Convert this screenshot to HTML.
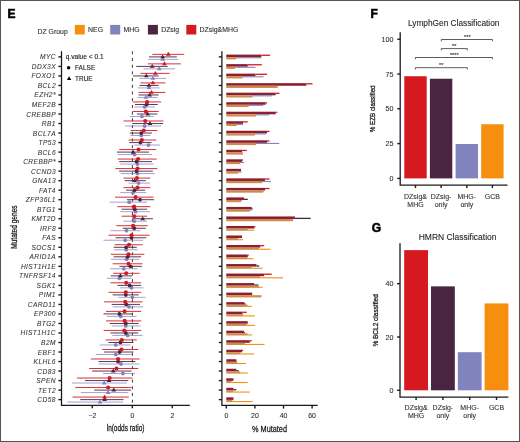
<!DOCTYPE html><html><head><meta charset="utf-8"><style>html,body{margin:0;padding:0;background:#fff;}svg{display:block;will-change:transform;}text{stroke-width:0.12px;}text.ns{stroke-width:0.08px;}text.bt{stroke-width:0.3px;}text.pl{stroke-width:0.55px;}</style></head><body>
<svg width="520" height="442" viewBox="0 0 520 442" font-family='"Liberation Sans", sans-serif'>
<rect x="0" y="0" width="520" height="442" fill="#fff"/>
<rect x="0.5" y="0.5" width="519" height="441" fill="none" stroke="#555" stroke-width="1"/>
<text class="pl" x="7.6" y="17.6" font-size="12" font-weight="bold" fill="#000" stroke="#000">E</text>
<text class="pl" x="370.4" y="18" font-size="12" font-weight="bold" fill="#000" stroke="#000">F</text>
<text class="pl" x="371.8" y="232" font-size="12" font-weight="bold" fill="#000" stroke="#000">G</text>
<text x="37.5" y="34.0" font-size="6.9" fill="#333" stroke="#333">DZ Group</text>
<rect x="74.8" y="24.9" width="10" height="9.6" fill="#F68F0F"/>
<text x="88.1" y="32.2" font-size="6.9" fill="#333" stroke="#333">NEG</text>
<rect x="110.2" y="24.9" width="10" height="9.6" fill="#8183BF"/>
<text x="123.5" y="32.2" font-size="6.9" fill="#333" stroke="#333">MHG</text>
<rect x="147.9" y="24.9" width="10" height="9.6" fill="#4A2440"/>
<text x="161.20000000000002" y="32.2" font-size="6.9" fill="#333" stroke="#333">DZsig</text>
<rect x="186.3" y="24.9" width="10" height="9.6" fill="#D6191F"/>
<text x="199.60000000000002" y="32.2" font-size="6.9" fill="#333" stroke="#333">DZsig&amp;MHG</text>
<line x1="132.4" y1="51.3" x2="132.4" y2="405" stroke="#222" stroke-width="0.9" stroke-dasharray="3 3.7"/>
<line x1="147.8" y1="59.35" x2="178" y2="59.35" stroke="#8183BF" stroke-width="1.0" stroke-opacity="0.75"/>
<line x1="143.5" y1="68.87" x2="175.1" y2="68.87" stroke="#8183BF" stroke-width="1.0" stroke-opacity="0.75"/>
<line x1="139.4" y1="78.39" x2="166.3" y2="78.39" stroke="#8183BF" stroke-width="1.0" stroke-opacity="0.75"/>
<line x1="137.5" y1="87.91" x2="159.6" y2="87.91" stroke="#8183BF" stroke-width="1.0" stroke-opacity="0.75"/>
<line x1="137.5" y1="97.43" x2="157.7" y2="97.43" stroke="#8183BF" stroke-width="1.0" stroke-opacity="0.75"/>
<line x1="134.6" y1="106.95" x2="154.8" y2="106.95" stroke="#8183BF" stroke-width="1.0" stroke-opacity="0.75"/>
<line x1="129.8" y1="116.47" x2="153.8" y2="116.47" stroke="#8183BF" stroke-width="1.0" stroke-opacity="0.75"/>
<line x1="125" y1="125.99" x2="161.2" y2="125.99" stroke="#8183BF" stroke-width="1.0" stroke-opacity="0.75"/>
<line x1="130.4" y1="135.51" x2="150.4" y2="135.51" stroke="#8183BF" stroke-width="1.0" stroke-opacity="0.75"/>
<line x1="134.2" y1="145.03" x2="160" y2="145.03" stroke="#8183BF" stroke-width="1.0" stroke-opacity="0.75"/>
<line x1="117.7" y1="154.55" x2="151.9" y2="154.55" stroke="#8183BF" stroke-width="1.0" stroke-opacity="0.75"/>
<line x1="120.2" y1="164.07" x2="153.8" y2="164.07" stroke="#8183BF" stroke-width="1.0" stroke-opacity="0.75"/>
<line x1="120.8" y1="173.59" x2="154.8" y2="173.59" stroke="#8183BF" stroke-width="1.0" stroke-opacity="0.75"/>
<line x1="128.5" y1="183.11" x2="150" y2="183.11" stroke="#8183BF" stroke-width="1.0" stroke-opacity="0.75"/>
<line x1="120.2" y1="192.63" x2="146.2" y2="192.63" stroke="#8183BF" stroke-width="1.0" stroke-opacity="0.75"/>
<line x1="109.6" y1="202.15" x2="147.1" y2="202.15" stroke="#8183BF" stroke-width="1.0" stroke-opacity="0.75"/>
<line x1="120.2" y1="211.67" x2="150" y2="211.67" stroke="#8183BF" stroke-width="1.0" stroke-opacity="0.75"/>
<line x1="123.5" y1="221.19" x2="147.1" y2="221.19" stroke="#8183BF" stroke-width="1.0" stroke-opacity="0.75"/>
<line x1="110.6" y1="230.71" x2="140.4" y2="230.71" stroke="#8183BF" stroke-width="1.0" stroke-opacity="0.75"/>
<line x1="103.5" y1="240.23" x2="143.1" y2="240.23" stroke="#8183BF" stroke-width="1.0" stroke-opacity="0.75"/>
<line x1="114.2" y1="249.75" x2="137.7" y2="249.75" stroke="#8183BF" stroke-width="1.0" stroke-opacity="0.75"/>
<line x1="110.8" y1="259.27" x2="139.6" y2="259.27" stroke="#8183BF" stroke-width="1.0" stroke-opacity="0.75"/>
<line x1="110.4" y1="268.79" x2="137.7" y2="268.79" stroke="#8183BF" stroke-width="1.0" stroke-opacity="0.75"/>
<line x1="106.9" y1="278.31" x2="131.5" y2="278.31" stroke="#8183BF" stroke-width="1.0" stroke-opacity="0.75"/>
<line x1="120" y1="287.83" x2="143.5" y2="287.83" stroke="#8183BF" stroke-width="1.0" stroke-opacity="0.75"/>
<line x1="118.5" y1="297.35" x2="145.4" y2="297.35" stroke="#8183BF" stroke-width="1.0" stroke-opacity="0.75"/>
<line x1="112.7" y1="306.87" x2="143.1" y2="306.87" stroke="#8183BF" stroke-width="1.0" stroke-opacity="0.75"/>
<line x1="106.9" y1="316.39" x2="136.7" y2="316.39" stroke="#8183BF" stroke-width="1.0" stroke-opacity="0.75"/>
<line x1="111.7" y1="325.91" x2="140.6" y2="325.91" stroke="#8183BF" stroke-width="1.0" stroke-opacity="0.75"/>
<line x1="112.3" y1="335.43" x2="142.7" y2="335.43" stroke="#8183BF" stroke-width="1.0" stroke-opacity="0.75"/>
<line x1="99.8" y1="344.95" x2="130.6" y2="344.95" stroke="#8183BF" stroke-width="1.0" stroke-opacity="0.75"/>
<line x1="96" y1="354.47" x2="131.9" y2="354.47" stroke="#8183BF" stroke-width="1.0" stroke-opacity="0.75"/>
<line x1="98.8" y1="363.99" x2="139.2" y2="363.99" stroke="#8183BF" stroke-width="1.0" stroke-opacity="0.75"/>
<line x1="103.1" y1="373.51" x2="135" y2="373.51" stroke="#8183BF" stroke-width="1.0" stroke-opacity="0.75"/>
<line x1="71.9" y1="383.03" x2="126.9" y2="383.03" stroke="#8183BF" stroke-width="1.0" stroke-opacity="0.75"/>
<line x1="80.8" y1="392.55" x2="128.3" y2="392.55" stroke="#8183BF" stroke-width="1.0" stroke-opacity="0.75"/>
<line x1="67.3" y1="402.07" x2="123.1" y2="402.07" stroke="#8183BF" stroke-width="1.0" stroke-opacity="0.75"/>
<line x1="149" y1="56.90" x2="176.8" y2="56.90" stroke="#4A2440" stroke-width="1.0" stroke-opacity="0.9"/>
<line x1="136.2" y1="66.42" x2="167.6" y2="66.42" stroke="#4A2440" stroke-width="1.0" stroke-opacity="0.9"/>
<line x1="133" y1="75.94" x2="158.7" y2="75.94" stroke="#4A2440" stroke-width="1.0" stroke-opacity="0.9"/>
<line x1="139.4" y1="85.46" x2="158.7" y2="85.46" stroke="#4A2440" stroke-width="1.0" stroke-opacity="0.9"/>
<line x1="138.5" y1="94.98" x2="158.7" y2="94.98" stroke="#4A2440" stroke-width="1.0" stroke-opacity="0.9"/>
<line x1="135" y1="104.50" x2="157.7" y2="104.50" stroke="#4A2440" stroke-width="1.0" stroke-opacity="0.9"/>
<line x1="136.9" y1="114.02" x2="157.3" y2="114.02" stroke="#4A2440" stroke-width="1.0" stroke-opacity="0.9"/>
<line x1="132.3" y1="123.54" x2="163.1" y2="123.54" stroke="#4A2440" stroke-width="1.0" stroke-opacity="0.9"/>
<line x1="129.8" y1="133.06" x2="151.9" y2="133.06" stroke="#4A2440" stroke-width="1.0" stroke-opacity="0.9"/>
<line x1="129.2" y1="142.58" x2="151.5" y2="142.58" stroke="#4A2440" stroke-width="1.0" stroke-opacity="0.9"/>
<line x1="116.9" y1="152.10" x2="149" y2="152.10" stroke="#4A2440" stroke-width="1.0" stroke-opacity="0.9"/>
<line x1="119.2" y1="161.62" x2="151.9" y2="161.62" stroke="#4A2440" stroke-width="1.0" stroke-opacity="0.9"/>
<line x1="119.2" y1="171.14" x2="152.9" y2="171.14" stroke="#4A2440" stroke-width="1.0" stroke-opacity="0.9"/>
<line x1="124.6" y1="180.66" x2="145.8" y2="180.66" stroke="#4A2440" stroke-width="1.0" stroke-opacity="0.9"/>
<line x1="126" y1="190.18" x2="145.2" y2="190.18" stroke="#4A2440" stroke-width="1.0" stroke-opacity="0.9"/>
<line x1="127" y1="199.70" x2="154.2" y2="199.70" stroke="#4A2440" stroke-width="1.0" stroke-opacity="0.9"/>
<line x1="121.5" y1="209.22" x2="147.1" y2="209.22" stroke="#4A2440" stroke-width="1.0" stroke-opacity="0.9"/>
<line x1="132.3" y1="218.74" x2="152.9" y2="218.74" stroke="#4A2440" stroke-width="1.0" stroke-opacity="0.9"/>
<line x1="122.7" y1="228.26" x2="145.8" y2="228.26" stroke="#4A2440" stroke-width="1.0" stroke-opacity="0.9"/>
<line x1="115.6" y1="237.78" x2="146.3" y2="237.78" stroke="#4A2440" stroke-width="1.0" stroke-opacity="0.9"/>
<line x1="113.7" y1="247.30" x2="136.7" y2="247.30" stroke="#4A2440" stroke-width="1.0" stroke-opacity="0.9"/>
<line x1="113.7" y1="256.82" x2="141.2" y2="256.82" stroke="#4A2440" stroke-width="1.0" stroke-opacity="0.9"/>
<line x1="119.4" y1="266.34" x2="141.9" y2="266.34" stroke="#4A2440" stroke-width="1.0" stroke-opacity="0.9"/>
<line x1="110.8" y1="275.86" x2="132.3" y2="275.86" stroke="#4A2440" stroke-width="1.0" stroke-opacity="0.9"/>
<line x1="117.5" y1="285.38" x2="141.2" y2="285.38" stroke="#4A2440" stroke-width="1.0" stroke-opacity="0.9"/>
<line x1="112.7" y1="294.90" x2="138.7" y2="294.90" stroke="#4A2440" stroke-width="1.0" stroke-opacity="0.9"/>
<line x1="111.7" y1="304.42" x2="140" y2="304.42" stroke="#4A2440" stroke-width="1.0" stroke-opacity="0.9"/>
<line x1="103.5" y1="313.94" x2="132.3" y2="313.94" stroke="#4A2440" stroke-width="1.0" stroke-opacity="0.9"/>
<line x1="109.8" y1="323.46" x2="138.7" y2="323.46" stroke="#4A2440" stroke-width="1.0" stroke-opacity="0.9"/>
<line x1="110.4" y1="332.98" x2="138.3" y2="332.98" stroke="#4A2440" stroke-width="1.0" stroke-opacity="0.9"/>
<line x1="108.5" y1="342.50" x2="133.5" y2="342.50" stroke="#4A2440" stroke-width="1.0" stroke-opacity="0.9"/>
<line x1="104.2" y1="352.02" x2="133.5" y2="352.02" stroke="#4A2440" stroke-width="1.0" stroke-opacity="0.9"/>
<line x1="98.5" y1="361.54" x2="135.4" y2="361.54" stroke="#4A2440" stroke-width="1.0" stroke-opacity="0.9"/>
<line x1="92.1" y1="371.06" x2="131.5" y2="371.06" stroke="#4A2440" stroke-width="1.0" stroke-opacity="0.9"/>
<line x1="85" y1="380.58" x2="128.3" y2="380.58" stroke="#4A2440" stroke-width="1.0" stroke-opacity="0.9"/>
<line x1="94.2" y1="390.10" x2="131.2" y2="390.10" stroke="#4A2440" stroke-width="1.0" stroke-opacity="0.9"/>
<line x1="80.2" y1="399.62" x2="123.5" y2="399.62" stroke="#4A2440" stroke-width="1.0" stroke-opacity="0.9"/>
<line x1="152.4" y1="54.35" x2="184.2" y2="54.35" stroke="#D6191F" stroke-width="1.0" stroke-opacity="0.9"/>
<line x1="147.8" y1="63.87" x2="180.8" y2="63.87" stroke="#D6191F" stroke-width="1.0" stroke-opacity="0.9"/>
<line x1="140.4" y1="73.39" x2="169.6" y2="73.39" stroke="#D6191F" stroke-width="1.0" stroke-opacity="0.9"/>
<line x1="140.4" y1="82.91" x2="165.4" y2="82.91" stroke="#D6191F" stroke-width="1.0" stroke-opacity="0.9"/>
<line x1="138.5" y1="92.43" x2="165.4" y2="92.43" stroke="#D6191F" stroke-width="1.0" stroke-opacity="0.9"/>
<line x1="132.7" y1="101.95" x2="161.2" y2="101.95" stroke="#D6191F" stroke-width="1.0" stroke-opacity="0.9"/>
<line x1="132.7" y1="111.47" x2="158.7" y2="111.47" stroke="#D6191F" stroke-width="1.0" stroke-opacity="0.9"/>
<line x1="123.5" y1="120.99" x2="163.5" y2="120.99" stroke="#D6191F" stroke-width="1.0" stroke-opacity="0.9"/>
<line x1="130.8" y1="130.51" x2="157.3" y2="130.51" stroke="#D6191F" stroke-width="1.0" stroke-opacity="0.9"/>
<line x1="128.5" y1="140.03" x2="156.2" y2="140.03" stroke="#D6191F" stroke-width="1.0" stroke-opacity="0.9"/>
<line x1="119.2" y1="149.55" x2="156.2" y2="149.55" stroke="#D6191F" stroke-width="1.0" stroke-opacity="0.9"/>
<line x1="117.7" y1="159.07" x2="156.7" y2="159.07" stroke="#D6191F" stroke-width="1.0" stroke-opacity="0.9"/>
<line x1="115.4" y1="168.59" x2="157.3" y2="168.59" stroke="#D6191F" stroke-width="1.0" stroke-opacity="0.9"/>
<line x1="123.5" y1="178.11" x2="150.4" y2="178.11" stroke="#D6191F" stroke-width="1.0" stroke-opacity="0.9"/>
<line x1="123.5" y1="187.63" x2="150.4" y2="187.63" stroke="#D6191F" stroke-width="1.0" stroke-opacity="0.9"/>
<line x1="115" y1="197.15" x2="153.5" y2="197.15" stroke="#D6191F" stroke-width="1.0" stroke-opacity="0.9"/>
<line x1="117.3" y1="206.67" x2="150.4" y2="206.67" stroke="#D6191F" stroke-width="1.0" stroke-opacity="0.9"/>
<line x1="121.5" y1="216.19" x2="147.1" y2="216.19" stroke="#D6191F" stroke-width="1.0" stroke-opacity="0.9"/>
<line x1="116.3" y1="225.71" x2="147.7" y2="225.71" stroke="#D6191F" stroke-width="1.0" stroke-opacity="0.9"/>
<line x1="108.5" y1="235.23" x2="149.6" y2="235.23" stroke="#D6191F" stroke-width="1.0" stroke-opacity="0.9"/>
<line x1="114.6" y1="244.75" x2="142.5" y2="244.75" stroke="#D6191F" stroke-width="1.0" stroke-opacity="0.9"/>
<line x1="110.8" y1="254.27" x2="144.4" y2="254.27" stroke="#D6191F" stroke-width="1.0" stroke-opacity="0.9"/>
<line x1="112.7" y1="263.79" x2="142.5" y2="263.79" stroke="#D6191F" stroke-width="1.0" stroke-opacity="0.9"/>
<line x1="113.1" y1="273.31" x2="139.6" y2="273.31" stroke="#D6191F" stroke-width="1.0" stroke-opacity="0.9"/>
<line x1="110.4" y1="282.83" x2="141.2" y2="282.83" stroke="#D6191F" stroke-width="1.0" stroke-opacity="0.9"/>
<line x1="108.5" y1="292.35" x2="141.2" y2="292.35" stroke="#D6191F" stroke-width="1.0" stroke-opacity="0.9"/>
<line x1="104" y1="301.87" x2="142.5" y2="301.87" stroke="#D6191F" stroke-width="1.0" stroke-opacity="0.9"/>
<line x1="106" y1="311.39" x2="141.2" y2="311.39" stroke="#D6191F" stroke-width="1.0" stroke-opacity="0.9"/>
<line x1="106" y1="320.91" x2="141.2" y2="320.91" stroke="#D6191F" stroke-width="1.0" stroke-opacity="0.9"/>
<line x1="103.7" y1="330.43" x2="141.2" y2="330.43" stroke="#D6191F" stroke-width="1.0" stroke-opacity="0.9"/>
<line x1="105.6" y1="339.95" x2="136.9" y2="339.95" stroke="#D6191F" stroke-width="1.0" stroke-opacity="0.9"/>
<line x1="102.3" y1="349.47" x2="138.3" y2="349.47" stroke="#D6191F" stroke-width="1.0" stroke-opacity="0.9"/>
<line x1="90.8" y1="358.99" x2="139.6" y2="358.99" stroke="#D6191F" stroke-width="1.0" stroke-opacity="0.9"/>
<line x1="89.2" y1="368.51" x2="138.3" y2="368.51" stroke="#D6191F" stroke-width="1.0" stroke-opacity="0.9"/>
<line x1="76.9" y1="378.03" x2="132.7" y2="378.03" stroke="#D6191F" stroke-width="1.0" stroke-opacity="0.9"/>
<line x1="75.4" y1="387.55" x2="131.5" y2="387.55" stroke="#D6191F" stroke-width="1.0" stroke-opacity="0.9"/>
<line x1="72.5" y1="397.07" x2="128.8" y2="397.07" stroke="#D6191F" stroke-width="1.0" stroke-opacity="0.9"/>
<path d="M162.7 56.85L165.1 60.75L160.29999999999998 60.75Z" fill="#8183BF"/>
<path d="M159.2 66.37L161.6 70.27L156.79999999999998 70.27Z" fill="#8183BF"/>
<path d="M152.9 75.89L155.3 79.79L150.5 79.79Z" fill="#8183BF"/>
<path d="M149 85.41L151.4 89.31L146.6 89.31Z" fill="#8183BF"/>
<path d="M145.8 94.93L148.20000000000002 98.83L143.4 98.83Z" fill="#8183BF"/>
<circle cx="144.6" cy="106.95" r="1.9" fill="#8183BF"/>
<circle cx="141.9" cy="116.47" r="1.9" fill="#8183BF"/>
<circle cx="144.6" cy="125.99" r="1.9" fill="#8183BF"/>
<circle cx="141.3" cy="135.51" r="1.9" fill="#8183BF"/>
<circle cx="148.5" cy="145.03" r="1.9" fill="#8183BF"/>
<circle cx="134.6" cy="154.55" r="1.9" fill="#8183BF"/>
<circle cx="137.5" cy="164.07" r="1.9" fill="#8183BF"/>
<circle cx="137.5" cy="173.59" r="1.9" fill="#8183BF"/>
<circle cx="138.5" cy="183.11" r="1.9" fill="#8183BF"/>
<circle cx="133.1" cy="192.63" r="1.9" fill="#8183BF"/>
<circle cx="129.2" cy="202.15" r="1.9" fill="#8183BF"/>
<circle cx="135.6" cy="211.67" r="1.9" fill="#8183BF"/>
<circle cx="134.2" cy="221.19" r="1.9" fill="#8183BF"/>
<circle cx="126.5" cy="230.71" r="1.9" fill="#8183BF"/>
<circle cx="125.2" cy="240.23" r="1.9" fill="#8183BF"/>
<circle cx="126.2" cy="249.75" r="1.9" fill="#8183BF"/>
<circle cx="126.5" cy="259.27" r="1.9" fill="#8183BF"/>
<circle cx="123.8" cy="268.79" r="1.9" fill="#8183BF"/>
<circle cx="119.4" cy="278.31" r="1.9" fill="#8183BF"/>
<circle cx="131.5" cy="287.83" r="1.9" fill="#8183BF"/>
<circle cx="132.3" cy="297.35" r="1.9" fill="#8183BF"/>
<circle cx="129" cy="306.87" r="1.9" fill="#8183BF"/>
<circle cx="120.8" cy="316.39" r="1.9" fill="#8183BF"/>
<circle cx="125.8" cy="325.91" r="1.9" fill="#8183BF"/>
<circle cx="127.7" cy="335.43" r="1.9" fill="#8183BF"/>
<circle cx="115.8" cy="344.95" r="1.9" fill="#8183BF"/>
<circle cx="115.8" cy="354.47" r="1.9" fill="#8183BF"/>
<circle cx="121" cy="363.99" r="1.9" fill="#8183BF"/>
<circle cx="122.9" cy="373.51" r="1.9" fill="#8183BF"/>
<path d="M104.2 380.53L106.60000000000001 384.43L101.8 384.43Z" fill="#8183BF"/>
<path d="M108.1 390.05L110.5 393.95L105.69999999999999 393.95Z" fill="#8183BF"/>
<path d="M100 399.57L102.4 403.47L97.6 403.47Z" fill="#8183BF"/>
<path d="M162.7 54.40L165.1 58.30L160.29999999999998 58.30Z" fill="#4A2440"/>
<path d="M152.2 63.92L154.6 67.82L149.79999999999998 67.82Z" fill="#4A2440"/>
<path d="M146.3 73.44L148.70000000000002 77.34L143.9 77.34Z" fill="#4A2440"/>
<path d="M149 82.96L151.4 86.86L146.6 86.86Z" fill="#4A2440"/>
<path d="M149.6 92.48L152.0 96.38L147.2 96.38Z" fill="#4A2440"/>
<circle cx="146.7" cy="104.50" r="1.9" fill="#4A2440"/>
<path d="M147.7 111.52L150.1 115.42L145.29999999999998 115.42Z" fill="#4A2440"/>
<path d="M150 121.04L152.4 124.94L147.6 124.94Z" fill="#4A2440"/>
<circle cx="141.3" cy="133.06" r="1.9" fill="#4A2440"/>
<circle cx="140.4" cy="142.58" r="1.9" fill="#4A2440"/>
<path d="M133.1 149.60L135.5 153.50L130.7 153.50Z" fill="#4A2440"/>
<circle cx="136.5" cy="161.62" r="1.9" fill="#4A2440"/>
<circle cx="136.5" cy="171.14" r="1.9" fill="#4A2440"/>
<path d="M134.6 178.16L137.0 182.06L132.2 182.06Z" fill="#4A2440"/>
<circle cx="134.6" cy="190.18" r="1.9" fill="#4A2440"/>
<circle cx="140" cy="199.70" r="1.9" fill="#4A2440"/>
<circle cx="134.6" cy="209.22" r="1.9" fill="#4A2440"/>
<path d="M142.7 216.24L145.1 220.14L140.29999999999998 220.14Z" fill="#4A2440"/>
<circle cx="134.2" cy="228.26" r="1.9" fill="#4A2440"/>
<circle cx="131.5" cy="237.78" r="1.9" fill="#4A2440"/>
<circle cx="126.2" cy="247.30" r="1.9" fill="#4A2440"/>
<circle cx="127.7" cy="256.82" r="1.9" fill="#4A2440"/>
<circle cx="130.4" cy="266.34" r="1.9" fill="#4A2440"/>
<path d="M120.4 273.36L122.80000000000001 277.26L118.0 277.26Z" fill="#4A2440"/>
<circle cx="129.6" cy="285.38" r="1.9" fill="#4A2440"/>
<circle cx="125.8" cy="294.90" r="1.9" fill="#4A2440"/>
<circle cx="126.2" cy="304.42" r="1.9" fill="#4A2440"/>
<circle cx="119.4" cy="313.94" r="1.9" fill="#4A2440"/>
<circle cx="125.8" cy="323.46" r="1.9" fill="#4A2440"/>
<circle cx="125.8" cy="332.98" r="1.9" fill="#4A2440"/>
<circle cx="120.4" cy="342.50" r="1.9" fill="#4A2440"/>
<circle cx="119.6" cy="352.02" r="1.9" fill="#4A2440"/>
<circle cx="118.1" cy="361.54" r="1.9" fill="#4A2440"/>
<path d="M113.3 368.56L115.7 372.46L110.89999999999999 372.46Z" fill="#4A2440"/>
<path d="M109 378.08L111.4 381.98L106.6 381.98Z" fill="#4A2440"/>
<path d="M113.8 387.60L116.2 391.50L111.39999999999999 391.50Z" fill="#4A2440"/>
<path d="M104.6 397.12L107.0 401.02L102.19999999999999 401.02Z" fill="#4A2440"/>
<path d="M168.3 51.85L170.70000000000002 55.75L165.9 55.75Z" fill="#D6191F"/>
<path d="M164.4 61.37L166.8 65.27L162.0 65.27Z" fill="#D6191F"/>
<path d="M155.4 70.89L157.8 74.79L153.0 74.79Z" fill="#D6191F"/>
<path d="M152.9 80.41L155.3 84.31L150.5 84.31Z" fill="#D6191F"/>
<path d="M151.5 89.93L153.9 93.83L149.1 93.83Z" fill="#D6191F"/>
<circle cx="147.1" cy="101.95" r="2.05" fill="#D6191F"/>
<circle cx="145.8" cy="111.47" r="2.05" fill="#D6191F"/>
<circle cx="145.2" cy="120.99" r="2.05" fill="#D6191F"/>
<circle cx="143.8" cy="130.51" r="2.05" fill="#D6191F"/>
<circle cx="141.9" cy="140.03" r="2.05" fill="#D6191F"/>
<circle cx="138.5" cy="149.55" r="2.05" fill="#D6191F"/>
<circle cx="138.1" cy="159.07" r="2.05" fill="#D6191F"/>
<circle cx="137.5" cy="168.59" r="2.05" fill="#D6191F"/>
<circle cx="136.9" cy="178.11" r="2.05" fill="#D6191F"/>
<circle cx="137.5" cy="187.63" r="2.05" fill="#D6191F"/>
<circle cx="135.6" cy="197.15" r="2.05" fill="#D6191F"/>
<circle cx="134.2" cy="206.67" r="2.05" fill="#D6191F"/>
<circle cx="134.2" cy="216.19" r="2.05" fill="#D6191F"/>
<circle cx="133.1" cy="225.71" r="2.05" fill="#D6191F"/>
<circle cx="131.5" cy="235.23" r="2.05" fill="#D6191F"/>
<circle cx="129" cy="244.75" r="2.05" fill="#D6191F"/>
<circle cx="128.5" cy="254.27" r="2.05" fill="#D6191F"/>
<circle cx="128.5" cy="263.79" r="2.05" fill="#D6191F"/>
<circle cx="126.2" cy="273.31" r="2.05" fill="#D6191F"/>
<circle cx="126.2" cy="282.83" r="2.05" fill="#D6191F"/>
<circle cx="125.8" cy="292.35" r="2.05" fill="#D6191F"/>
<circle cx="125.2" cy="301.87" r="2.05" fill="#D6191F"/>
<circle cx="124.6" cy="311.39" r="2.05" fill="#D6191F"/>
<circle cx="124.6" cy="320.91" r="2.05" fill="#D6191F"/>
<circle cx="124.2" cy="330.43" r="2.05" fill="#D6191F"/>
<circle cx="121.9" cy="339.95" r="2.05" fill="#D6191F"/>
<circle cx="121.5" cy="349.47" r="2.05" fill="#D6191F"/>
<circle cx="118.1" cy="358.99" r="2.05" fill="#D6191F"/>
<circle cx="116.5" cy="368.51" r="2.05" fill="#D6191F"/>
<circle cx="109.6" cy="378.03" r="2.05" fill="#D6191F"/>
<circle cx="108.1" cy="387.55" r="2.05" fill="#D6191F"/>
<path d="M104.6 394.57L107.0 398.47L102.19999999999999 398.47Z" fill="#D6191F"/>
<path d="M61.5 51.2V405.4H189.8" fill="none" stroke="#1a1a1a" stroke-width="1.3"/>
<line x1="58.4" y1="56.90" x2="61.5" y2="56.90" stroke="#1a1a1a" stroke-width="1.4"/>
<text x="56.0" y="59.40" font-size="6.6" font-style="italic" letter-spacing="0.45" class="ns" fill="#383838" stroke="#383838" text-anchor="end">MYC</text>
<line x1="58.4" y1="66.42" x2="61.5" y2="66.42" stroke="#1a1a1a" stroke-width="1.4"/>
<text x="56.0" y="68.92" font-size="6.6" font-style="italic" letter-spacing="0.45" class="ns" fill="#383838" stroke="#383838" text-anchor="end">DDX3X</text>
<line x1="58.4" y1="75.94" x2="61.5" y2="75.94" stroke="#1a1a1a" stroke-width="1.4"/>
<text x="56.0" y="78.44" font-size="6.6" font-style="italic" letter-spacing="0.45" class="ns" fill="#383838" stroke="#383838" text-anchor="end">FOXO1</text>
<line x1="58.4" y1="85.46" x2="61.5" y2="85.46" stroke="#1a1a1a" stroke-width="1.4"/>
<text x="56.0" y="87.96" font-size="6.6" font-style="italic" letter-spacing="0.45" class="ns" fill="#383838" stroke="#383838" text-anchor="end">BCL2</text>
<line x1="58.4" y1="94.98" x2="61.5" y2="94.98" stroke="#1a1a1a" stroke-width="1.4"/>
<text x="56.0" y="97.48" font-size="6.6" font-style="italic" letter-spacing="0.45" class="ns" fill="#383838" stroke="#383838" text-anchor="end">EZH2*</text>
<line x1="58.4" y1="104.50" x2="61.5" y2="104.50" stroke="#1a1a1a" stroke-width="1.4"/>
<text x="56.0" y="107.00" font-size="6.6" font-style="italic" letter-spacing="0.45" class="ns" fill="#383838" stroke="#383838" text-anchor="end">MEF2B</text>
<line x1="58.4" y1="114.02" x2="61.5" y2="114.02" stroke="#1a1a1a" stroke-width="1.4"/>
<text x="56.0" y="116.52" font-size="6.6" font-style="italic" letter-spacing="0.45" class="ns" fill="#383838" stroke="#383838" text-anchor="end">CREBBP</text>
<line x1="58.4" y1="123.54" x2="61.5" y2="123.54" stroke="#1a1a1a" stroke-width="1.4"/>
<text x="56.0" y="126.04" font-size="6.6" font-style="italic" letter-spacing="0.45" class="ns" fill="#383838" stroke="#383838" text-anchor="end">RB1</text>
<line x1="58.4" y1="133.06" x2="61.5" y2="133.06" stroke="#1a1a1a" stroke-width="1.4"/>
<text x="56.0" y="135.56" font-size="6.6" font-style="italic" letter-spacing="0.45" class="ns" fill="#383838" stroke="#383838" text-anchor="end">BCL7A</text>
<line x1="58.4" y1="142.58" x2="61.5" y2="142.58" stroke="#1a1a1a" stroke-width="1.4"/>
<text x="56.0" y="145.08" font-size="6.6" font-style="italic" letter-spacing="0.45" class="ns" fill="#383838" stroke="#383838" text-anchor="end">TP53</text>
<line x1="58.4" y1="152.10" x2="61.5" y2="152.10" stroke="#1a1a1a" stroke-width="1.4"/>
<text x="56.0" y="154.60" font-size="6.6" font-style="italic" letter-spacing="0.45" class="ns" fill="#383838" stroke="#383838" text-anchor="end">BCL6</text>
<line x1="58.4" y1="161.62" x2="61.5" y2="161.62" stroke="#1a1a1a" stroke-width="1.4"/>
<text x="56.0" y="164.12" font-size="6.6" font-style="italic" letter-spacing="0.45" class="ns" fill="#383838" stroke="#383838" text-anchor="end">CREBBP*</text>
<line x1="58.4" y1="171.14" x2="61.5" y2="171.14" stroke="#1a1a1a" stroke-width="1.4"/>
<text x="56.0" y="173.64" font-size="6.6" font-style="italic" letter-spacing="0.45" class="ns" fill="#383838" stroke="#383838" text-anchor="end">CCND3</text>
<line x1="58.4" y1="180.66" x2="61.5" y2="180.66" stroke="#1a1a1a" stroke-width="1.4"/>
<text x="56.0" y="183.16" font-size="6.6" font-style="italic" letter-spacing="0.45" class="ns" fill="#383838" stroke="#383838" text-anchor="end">GNA13</text>
<line x1="58.4" y1="190.18" x2="61.5" y2="190.18" stroke="#1a1a1a" stroke-width="1.4"/>
<text x="56.0" y="192.68" font-size="6.6" font-style="italic" letter-spacing="0.45" class="ns" fill="#383838" stroke="#383838" text-anchor="end">FAT4</text>
<line x1="58.4" y1="199.70" x2="61.5" y2="199.70" stroke="#1a1a1a" stroke-width="1.4"/>
<text x="56.0" y="202.20" font-size="6.6" font-style="italic" letter-spacing="0.45" class="ns" fill="#383838" stroke="#383838" text-anchor="end">ZFP36L1</text>
<line x1="58.4" y1="209.22" x2="61.5" y2="209.22" stroke="#1a1a1a" stroke-width="1.4"/>
<text x="56.0" y="211.72" font-size="6.6" font-style="italic" letter-spacing="0.45" class="ns" fill="#383838" stroke="#383838" text-anchor="end">BTG1</text>
<line x1="58.4" y1="218.74" x2="61.5" y2="218.74" stroke="#1a1a1a" stroke-width="1.4"/>
<text x="56.0" y="221.24" font-size="6.6" font-style="italic" letter-spacing="0.45" class="ns" fill="#383838" stroke="#383838" text-anchor="end">KMT2D</text>
<line x1="58.4" y1="228.26" x2="61.5" y2="228.26" stroke="#1a1a1a" stroke-width="1.4"/>
<text x="56.0" y="230.76" font-size="6.6" font-style="italic" letter-spacing="0.45" class="ns" fill="#383838" stroke="#383838" text-anchor="end">IRF8</text>
<line x1="58.4" y1="237.78" x2="61.5" y2="237.78" stroke="#1a1a1a" stroke-width="1.4"/>
<text x="56.0" y="240.28" font-size="6.6" font-style="italic" letter-spacing="0.45" class="ns" fill="#383838" stroke="#383838" text-anchor="end">FAS</text>
<line x1="58.4" y1="247.30" x2="61.5" y2="247.30" stroke="#1a1a1a" stroke-width="1.4"/>
<text x="56.0" y="249.80" font-size="6.6" font-style="italic" letter-spacing="0.45" class="ns" fill="#383838" stroke="#383838" text-anchor="end">SOCS1</text>
<line x1="58.4" y1="256.82" x2="61.5" y2="256.82" stroke="#1a1a1a" stroke-width="1.4"/>
<text x="56.0" y="259.32" font-size="6.6" font-style="italic" letter-spacing="0.45" class="ns" fill="#383838" stroke="#383838" text-anchor="end">ARID1A</text>
<line x1="58.4" y1="266.34" x2="61.5" y2="266.34" stroke="#1a1a1a" stroke-width="1.4"/>
<text x="56.0" y="268.84" font-size="6.6" font-style="italic" letter-spacing="0.45" class="ns" fill="#383838" stroke="#383838" text-anchor="end">HIST1H1E</text>
<line x1="58.4" y1="275.86" x2="61.5" y2="275.86" stroke="#1a1a1a" stroke-width="1.4"/>
<text x="56.0" y="278.36" font-size="6.6" font-style="italic" letter-spacing="0.45" class="ns" fill="#383838" stroke="#383838" text-anchor="end">TNFRSF14</text>
<line x1="58.4" y1="285.38" x2="61.5" y2="285.38" stroke="#1a1a1a" stroke-width="1.4"/>
<text x="56.0" y="287.88" font-size="6.6" font-style="italic" letter-spacing="0.45" class="ns" fill="#383838" stroke="#383838" text-anchor="end">SGK1</text>
<line x1="58.4" y1="294.90" x2="61.5" y2="294.90" stroke="#1a1a1a" stroke-width="1.4"/>
<text x="56.0" y="297.40" font-size="6.6" font-style="italic" letter-spacing="0.45" class="ns" fill="#383838" stroke="#383838" text-anchor="end">PIM1</text>
<line x1="58.4" y1="304.42" x2="61.5" y2="304.42" stroke="#1a1a1a" stroke-width="1.4"/>
<text x="56.0" y="306.92" font-size="6.6" font-style="italic" letter-spacing="0.45" class="ns" fill="#383838" stroke="#383838" text-anchor="end">CARD11</text>
<line x1="58.4" y1="313.94" x2="61.5" y2="313.94" stroke="#1a1a1a" stroke-width="1.4"/>
<text x="56.0" y="316.44" font-size="6.6" font-style="italic" letter-spacing="0.45" class="ns" fill="#383838" stroke="#383838" text-anchor="end">EP300</text>
<line x1="58.4" y1="323.46" x2="61.5" y2="323.46" stroke="#1a1a1a" stroke-width="1.4"/>
<text x="56.0" y="325.96" font-size="6.6" font-style="italic" letter-spacing="0.45" class="ns" fill="#383838" stroke="#383838" text-anchor="end">BTG2</text>
<line x1="58.4" y1="332.98" x2="61.5" y2="332.98" stroke="#1a1a1a" stroke-width="1.4"/>
<text x="56.0" y="335.48" font-size="6.6" font-style="italic" letter-spacing="0.45" class="ns" fill="#383838" stroke="#383838" text-anchor="end">HIST1H1C</text>
<line x1="58.4" y1="342.50" x2="61.5" y2="342.50" stroke="#1a1a1a" stroke-width="1.4"/>
<text x="56.0" y="345.00" font-size="6.6" font-style="italic" letter-spacing="0.45" class="ns" fill="#383838" stroke="#383838" text-anchor="end">B2M</text>
<line x1="58.4" y1="352.02" x2="61.5" y2="352.02" stroke="#1a1a1a" stroke-width="1.4"/>
<text x="56.0" y="354.52" font-size="6.6" font-style="italic" letter-spacing="0.45" class="ns" fill="#383838" stroke="#383838" text-anchor="end">EBF1</text>
<line x1="58.4" y1="361.54" x2="61.5" y2="361.54" stroke="#1a1a1a" stroke-width="1.4"/>
<text x="56.0" y="364.04" font-size="6.6" font-style="italic" letter-spacing="0.45" class="ns" fill="#383838" stroke="#383838" text-anchor="end">KLHL6</text>
<line x1="58.4" y1="371.06" x2="61.5" y2="371.06" stroke="#1a1a1a" stroke-width="1.4"/>
<text x="56.0" y="373.56" font-size="6.6" font-style="italic" letter-spacing="0.45" class="ns" fill="#383838" stroke="#383838" text-anchor="end">CD83</text>
<line x1="58.4" y1="380.58" x2="61.5" y2="380.58" stroke="#1a1a1a" stroke-width="1.4"/>
<text x="56.0" y="383.08" font-size="6.6" font-style="italic" letter-spacing="0.45" class="ns" fill="#383838" stroke="#383838" text-anchor="end">SPEN</text>
<line x1="58.4" y1="390.10" x2="61.5" y2="390.10" stroke="#1a1a1a" stroke-width="1.4"/>
<text x="56.0" y="392.60" font-size="6.6" font-style="italic" letter-spacing="0.45" class="ns" fill="#383838" stroke="#383838" text-anchor="end">TET2</text>
<line x1="58.4" y1="399.62" x2="61.5" y2="399.62" stroke="#1a1a1a" stroke-width="1.4"/>
<text x="56.0" y="402.12" font-size="6.6" font-style="italic" letter-spacing="0.45" class="ns" fill="#383838" stroke="#383838" text-anchor="end">CD58</text>
<line x1="92.30000000000001" y1="405.4" x2="92.30000000000001" y2="408.3" stroke="#1a1a1a" stroke-width="1.4"/>
<text x="92.30000000000001" y="418" font-size="6.9" fill="#363636" stroke="#363636" text-anchor="middle">−2</text>
<line x1="132.3" y1="405.4" x2="132.3" y2="408.3" stroke="#1a1a1a" stroke-width="1.4"/>
<text x="132.3" y="418" font-size="6.9" fill="#363636" stroke="#363636" text-anchor="middle">0</text>
<line x1="172.3" y1="405.4" x2="172.3" y2="408.3" stroke="#1a1a1a" stroke-width="1.4"/>
<text x="172.3" y="418" font-size="6.9" fill="#363636" stroke="#363636" text-anchor="middle">2</text>
<text class="bt" x="106.7" y="431.3" font-size="9.4" fill="#222" stroke="#222" textLength="37.7" lengthAdjust="spacingAndGlyphs">ln(odds ratio)</text>
<text class="bt" transform="translate(16.6,248.8) rotate(-90)" font-size="9.3" fill="#222" stroke="#222" textLength="43.4" lengthAdjust="spacingAndGlyphs">Mutated genes</text>
<text x="65.7" y="59.1" font-size="6.6" fill="#222" stroke="#222">q.value &lt; 0.1</text>
<circle cx="68.6" cy="67.7" r="1.75" fill="#000"/>
<text x="75" y="70.2" font-size="6.5" fill="#222" stroke="#222">FALSE</text>
<path d="M69.1 76.2L71.3 79.9L66.9 79.9Z" fill="#000"/>
<text x="75" y="80.8" font-size="6.5" fill="#222" stroke="#222">TRUE</text>
<rect x="226.3" y="54.60" width="35.03" height="2.6" fill="#8c1f30"/>
<rect x="261.34" y="54.60" width="8.72" height="1.30" fill="#D6191F"/>
<rect x="226.3" y="57.20" width="10.01" height="2.2" fill="#cf8b49"/>
<rect x="236.31" y="57.20" width="25.02" height="1.10" fill="#8183BF"/>
<rect x="226.3" y="64.12" width="21.45" height="2.6" fill="#8c1f30"/>
<rect x="247.75" y="64.12" width="14.01" height="1.30" fill="#D6191F"/>
<rect x="226.3" y="66.72" width="9.01" height="2.2" fill="#cf8b49"/>
<rect x="235.31" y="66.72" width="20.16" height="1.10" fill="#8183BF"/>
<rect x="226.3" y="73.64" width="29.17" height="2.6" fill="#8c1f30"/>
<rect x="255.47" y="73.64" width="11.58" height="1.30" fill="#D6191F"/>
<rect x="226.3" y="76.24" width="16.30" height="2.2" fill="#cf8b49"/>
<rect x="242.60" y="76.24" width="20.88" height="1.10" fill="#8183BF"/>
<rect x="226.3" y="83.16" width="80.08" height="2.6" fill="#8c1f30"/>
<rect x="306.38" y="83.16" width="6.15" height="1.30" fill="#D6191F"/>
<rect x="226.3" y="85.76" width="51.48" height="2.2" fill="#cf8b49"/>
<rect x="226.3" y="92.68" width="49.34" height="2.6" fill="#8c1f30"/>
<rect x="275.63" y="92.68" width="3.86" height="1.30" fill="#D6191F"/>
<rect x="226.3" y="95.28" width="26.31" height="2.2" fill="#cf8b49"/>
<rect x="252.61" y="95.28" width="19.16" height="1.10" fill="#8183BF"/>
<rect x="226.3" y="102.20" width="39.32" height="2.6" fill="#8c1f30"/>
<rect x="265.62" y="102.20" width="1.43" height="1.30" fill="#D6191F"/>
<rect x="226.3" y="104.80" width="22.45" height="2.2" fill="#cf8b49"/>
<rect x="248.75" y="104.80" width="14.44" height="1.10" fill="#8183BF"/>
<rect x="226.3" y="111.72" width="49.34" height="2.6" fill="#8c1f30"/>
<rect x="275.63" y="111.72" width="1.57" height="1.30" fill="#D6191F"/>
<rect x="226.3" y="114.32" width="29.74" height="2.2" fill="#cf8b49"/>
<rect x="256.04" y="114.32" width="13.01" height="1.10" fill="#8183BF"/>
<rect x="226.3" y="121.24" width="16.73" height="2.6" fill="#8c1f30"/>
<rect x="243.03" y="121.24" width="4.72" height="1.30" fill="#D6191F"/>
<rect x="226.3" y="123.84" width="10.44" height="2.2" fill="#cf8b49"/>
<rect x="236.74" y="123.84" width="6.29" height="1.10" fill="#8183BF"/>
<rect x="226.3" y="130.76" width="40.75" height="2.6" fill="#8c1f30"/>
<rect x="267.06" y="130.76" width="2.43" height="1.30" fill="#D6191F"/>
<rect x="226.3" y="133.36" width="28.60" height="2.2" fill="#cf8b49"/>
<rect x="254.90" y="133.36" width="11.15" height="1.10" fill="#8183BF"/>
<rect x="226.3" y="140.28" width="40.75" height="2.6" fill="#8c1f30"/>
<rect x="267.06" y="140.28" width="2.43" height="1.30" fill="#D6191F"/>
<rect x="226.3" y="142.88" width="29.74" height="2.2" fill="#cf8b49"/>
<rect x="256.04" y="142.88" width="23.17" height="1.10" fill="#8183BF"/>
<rect x="226.3" y="149.80" width="15.73" height="2.6" fill="#8c1f30"/>
<rect x="242.03" y="149.80" width="4.72" height="1.30" fill="#D6191F"/>
<rect x="226.3" y="152.40" width="16.73" height="2.2" fill="#cf8b49"/>
<rect x="226.3" y="159.32" width="15.73" height="2.6" fill="#8c1f30"/>
<rect x="242.03" y="159.32" width="1.00" height="1.30" fill="#D6191F"/>
<rect x="226.3" y="161.92" width="13.73" height="2.2" fill="#cf8b49"/>
<rect x="240.03" y="161.92" width="4.00" height="1.10" fill="#8183BF"/>
<rect x="226.3" y="168.84" width="14.73" height="2.6" fill="#8c1f30"/>
<rect x="226.3" y="171.44" width="11.87" height="2.2" fill="#cf8b49"/>
<rect x="238.17" y="171.44" width="3.29" height="1.10" fill="#8183BF"/>
<rect x="226.3" y="178.36" width="38.61" height="2.6" fill="#8c1f30"/>
<rect x="264.91" y="178.36" width="4.58" height="1.30" fill="#D6191F"/>
<rect x="226.3" y="180.96" width="35.89" height="2.2" fill="#cf8b49"/>
<rect x="262.19" y="180.96" width="8.72" height="1.10" fill="#8183BF"/>
<rect x="226.3" y="187.88" width="38.75" height="2.6" fill="#8c1f30"/>
<rect x="265.05" y="187.88" width="4.43" height="1.30" fill="#D6191F"/>
<rect x="226.3" y="190.48" width="36.89" height="2.2" fill="#cf8b49"/>
<rect x="263.19" y="190.48" width="0.86" height="1.10" fill="#8183BF"/>
<rect x="226.3" y="197.40" width="17.73" height="2.6" fill="#8c1f30"/>
<rect x="244.03" y="198.70" width="3.72" height="1.30" fill="#4A2440"/>
<rect x="226.3" y="200.00" width="14.73" height="2.2" fill="#cf8b49"/>
<rect x="241.03" y="200.00" width="1.00" height="1.10" fill="#8183BF"/>
<rect x="226.3" y="206.92" width="25.45" height="2.6" fill="#8c1f30"/>
<rect x="251.75" y="208.22" width="0.86" height="1.30" fill="#4A2440"/>
<rect x="226.3" y="209.52" width="23.45" height="2.2" fill="#cf8b49"/>
<rect x="249.75" y="209.52" width="2.29" height="1.10" fill="#8183BF"/>
<rect x="226.3" y="216.44" width="68.64" height="2.6" fill="#8c1f30"/>
<rect x="294.94" y="217.74" width="15.73" height="1.30" fill="#4A2440"/>
<rect x="226.3" y="219.04" width="66.78" height="2.2" fill="#cf8b49"/>
<rect x="226.3" y="225.96" width="28.17" height="2.6" fill="#8c1f30"/>
<rect x="254.47" y="225.96" width="1.00" height="1.30" fill="#D6191F"/>
<rect x="226.3" y="228.56" width="21.45" height="2.2" fill="#cf8b49"/>
<rect x="247.75" y="229.66" width="6.43" height="1.10" fill="#F68F0F"/>
<rect x="226.3" y="235.48" width="15.73" height="2.6" fill="#8c1f30"/>
<rect x="226.3" y="238.08" width="11.87" height="2.2" fill="#cf8b49"/>
<rect x="238.17" y="239.18" width="4.86" height="1.10" fill="#F68F0F"/>
<rect x="226.3" y="245.00" width="34.03" height="2.6" fill="#8c1f30"/>
<rect x="260.33" y="245.00" width="3.86" height="1.30" fill="#D6191F"/>
<rect x="226.3" y="247.60" width="32.89" height="2.2" fill="#cf8b49"/>
<rect x="259.19" y="248.70" width="11.15" height="1.10" fill="#F68F0F"/>
<rect x="226.3" y="254.52" width="21.45" height="2.6" fill="#8c1f30"/>
<rect x="247.75" y="254.52" width="1.00" height="1.30" fill="#D6191F"/>
<rect x="226.3" y="257.12" width="21.45" height="2.2" fill="#cf8b49"/>
<rect x="247.75" y="258.22" width="5.86" height="1.10" fill="#F68F0F"/>
<rect x="226.3" y="264.04" width="30.17" height="2.6" fill="#8c1f30"/>
<rect x="256.47" y="265.34" width="2.72" height="1.30" fill="#4A2440"/>
<rect x="226.3" y="266.64" width="25.45" height="2.2" fill="#cf8b49"/>
<rect x="251.75" y="267.74" width="10.87" height="1.10" fill="#F68F0F"/>
<rect x="226.3" y="273.56" width="37.89" height="2.6" fill="#8c1f30"/>
<rect x="264.19" y="273.56" width="7.58" height="1.30" fill="#D6191F"/>
<rect x="226.3" y="276.16" width="34.03" height="2.2" fill="#cf8b49"/>
<rect x="260.33" y="277.26" width="22.74" height="1.10" fill="#F68F0F"/>
<rect x="226.3" y="283.08" width="27.88" height="2.6" fill="#8c1f30"/>
<rect x="254.19" y="284.38" width="4.15" height="1.30" fill="#4A2440"/>
<rect x="226.3" y="285.68" width="32.89" height="2.2" fill="#cf8b49"/>
<rect x="259.19" y="286.78" width="3.43" height="1.10" fill="#F68F0F"/>
<rect x="226.3" y="292.60" width="25.88" height="2.6" fill="#8c1f30"/>
<rect x="226.3" y="295.20" width="35.03" height="2.2" fill="#cf8b49"/>
<rect x="261.34" y="295.20" width="0.43" height="1.10" fill="#8183BF"/>
<rect x="226.3" y="302.12" width="18.16" height="2.6" fill="#8c1f30"/>
<rect x="244.46" y="303.42" width="1.43" height="1.30" fill="#4A2440"/>
<rect x="226.3" y="304.72" width="21.45" height="2.2" fill="#cf8b49"/>
<rect x="247.75" y="305.82" width="4.00" height="1.10" fill="#F68F0F"/>
<rect x="226.3" y="311.64" width="16.30" height="2.6" fill="#8c1f30"/>
<rect x="242.60" y="311.64" width="4.15" height="1.30" fill="#D6191F"/>
<rect x="226.3" y="314.24" width="16.73" height="2.2" fill="#cf8b49"/>
<rect x="243.03" y="315.34" width="11.87" height="1.10" fill="#F68F0F"/>
<rect x="226.3" y="321.16" width="21.45" height="2.6" fill="#8c1f30"/>
<rect x="226.3" y="323.76" width="20.45" height="2.2" fill="#cf8b49"/>
<rect x="246.75" y="324.86" width="8.15" height="1.10" fill="#F68F0F"/>
<rect x="226.3" y="330.68" width="17.73" height="2.6" fill="#8c1f30"/>
<rect x="244.03" y="331.98" width="0.86" height="1.30" fill="#4A2440"/>
<rect x="226.3" y="333.28" width="21.45" height="2.2" fill="#cf8b49"/>
<rect x="247.75" y="334.38" width="4.43" height="1.10" fill="#F68F0F"/>
<rect x="226.3" y="340.20" width="23.45" height="2.6" fill="#8c1f30"/>
<rect x="249.75" y="340.20" width="2.00" height="1.30" fill="#D6191F"/>
<rect x="226.3" y="342.80" width="18.59" height="2.2" fill="#cf8b49"/>
<rect x="244.89" y="343.90" width="19.59" height="1.10" fill="#F68F0F"/>
<rect x="226.3" y="349.72" width="15.73" height="2.6" fill="#8c1f30"/>
<rect x="242.03" y="349.72" width="1.00" height="1.30" fill="#D6191F"/>
<rect x="226.3" y="352.32" width="13.73" height="2.2" fill="#cf8b49"/>
<rect x="240.03" y="353.42" width="14.16" height="1.10" fill="#F68F0F"/>
<rect x="226.3" y="359.24" width="10.01" height="2.6" fill="#8c1f30"/>
<rect x="236.31" y="360.54" width="0.43" height="1.30" fill="#4A2440"/>
<rect x="226.3" y="361.84" width="10.87" height="2.2" fill="#cf8b49"/>
<rect x="237.17" y="362.94" width="8.72" height="1.10" fill="#F68F0F"/>
<rect x="226.3" y="368.76" width="10.01" height="2.6" fill="#8c1f30"/>
<rect x="236.31" y="370.06" width="2.43" height="1.30" fill="#4A2440"/>
<rect x="226.3" y="371.36" width="13.87" height="2.2" fill="#cf8b49"/>
<rect x="240.17" y="372.46" width="7.58" height="1.10" fill="#F68F0F"/>
<rect x="226.3" y="378.28" width="7.15" height="2.6" fill="#8c1f30"/>
<rect x="226.3" y="380.88" width="5.15" height="2.2" fill="#cf8b49"/>
<rect x="231.45" y="381.98" width="16.30" height="1.10" fill="#F68F0F"/>
<rect x="226.3" y="387.80" width="7.15" height="2.6" fill="#8c1f30"/>
<rect x="233.45" y="389.10" width="2.86" height="1.30" fill="#4A2440"/>
<rect x="226.3" y="390.40" width="7.15" height="2.2" fill="#cf8b49"/>
<rect x="233.45" y="391.50" width="16.30" height="1.10" fill="#F68F0F"/>
<rect x="226.3" y="397.32" width="7.15" height="2.6" fill="#8c1f30"/>
<rect x="226.3" y="399.92" width="6.15" height="2.2" fill="#cf8b49"/>
<rect x="232.45" y="401.02" width="20.16" height="1.10" fill="#F68F0F"/>
<path d="M221.9 51.2V405.4H317.7" fill="none" stroke="#1a1a1a" stroke-width="1.3"/>
<line x1="218.8" y1="56.90" x2="221.9" y2="56.90" stroke="#1a1a1a" stroke-width="1.4"/>
<line x1="218.8" y1="66.42" x2="221.9" y2="66.42" stroke="#1a1a1a" stroke-width="1.4"/>
<line x1="218.8" y1="75.94" x2="221.9" y2="75.94" stroke="#1a1a1a" stroke-width="1.4"/>
<line x1="218.8" y1="85.46" x2="221.9" y2="85.46" stroke="#1a1a1a" stroke-width="1.4"/>
<line x1="218.8" y1="94.98" x2="221.9" y2="94.98" stroke="#1a1a1a" stroke-width="1.4"/>
<line x1="218.8" y1="104.50" x2="221.9" y2="104.50" stroke="#1a1a1a" stroke-width="1.4"/>
<line x1="218.8" y1="114.02" x2="221.9" y2="114.02" stroke="#1a1a1a" stroke-width="1.4"/>
<line x1="218.8" y1="123.54" x2="221.9" y2="123.54" stroke="#1a1a1a" stroke-width="1.4"/>
<line x1="218.8" y1="133.06" x2="221.9" y2="133.06" stroke="#1a1a1a" stroke-width="1.4"/>
<line x1="218.8" y1="142.58" x2="221.9" y2="142.58" stroke="#1a1a1a" stroke-width="1.4"/>
<line x1="218.8" y1="152.10" x2="221.9" y2="152.10" stroke="#1a1a1a" stroke-width="1.4"/>
<line x1="218.8" y1="161.62" x2="221.9" y2="161.62" stroke="#1a1a1a" stroke-width="1.4"/>
<line x1="218.8" y1="171.14" x2="221.9" y2="171.14" stroke="#1a1a1a" stroke-width="1.4"/>
<line x1="218.8" y1="180.66" x2="221.9" y2="180.66" stroke="#1a1a1a" stroke-width="1.4"/>
<line x1="218.8" y1="190.18" x2="221.9" y2="190.18" stroke="#1a1a1a" stroke-width="1.4"/>
<line x1="218.8" y1="199.70" x2="221.9" y2="199.70" stroke="#1a1a1a" stroke-width="1.4"/>
<line x1="218.8" y1="209.22" x2="221.9" y2="209.22" stroke="#1a1a1a" stroke-width="1.4"/>
<line x1="218.8" y1="218.74" x2="221.9" y2="218.74" stroke="#1a1a1a" stroke-width="1.4"/>
<line x1="218.8" y1="228.26" x2="221.9" y2="228.26" stroke="#1a1a1a" stroke-width="1.4"/>
<line x1="218.8" y1="237.78" x2="221.9" y2="237.78" stroke="#1a1a1a" stroke-width="1.4"/>
<line x1="218.8" y1="247.30" x2="221.9" y2="247.30" stroke="#1a1a1a" stroke-width="1.4"/>
<line x1="218.8" y1="256.82" x2="221.9" y2="256.82" stroke="#1a1a1a" stroke-width="1.4"/>
<line x1="218.8" y1="266.34" x2="221.9" y2="266.34" stroke="#1a1a1a" stroke-width="1.4"/>
<line x1="218.8" y1="275.86" x2="221.9" y2="275.86" stroke="#1a1a1a" stroke-width="1.4"/>
<line x1="218.8" y1="285.38" x2="221.9" y2="285.38" stroke="#1a1a1a" stroke-width="1.4"/>
<line x1="218.8" y1="294.90" x2="221.9" y2="294.90" stroke="#1a1a1a" stroke-width="1.4"/>
<line x1="218.8" y1="304.42" x2="221.9" y2="304.42" stroke="#1a1a1a" stroke-width="1.4"/>
<line x1="218.8" y1="313.94" x2="221.9" y2="313.94" stroke="#1a1a1a" stroke-width="1.4"/>
<line x1="218.8" y1="323.46" x2="221.9" y2="323.46" stroke="#1a1a1a" stroke-width="1.4"/>
<line x1="218.8" y1="332.98" x2="221.9" y2="332.98" stroke="#1a1a1a" stroke-width="1.4"/>
<line x1="218.8" y1="342.50" x2="221.9" y2="342.50" stroke="#1a1a1a" stroke-width="1.4"/>
<line x1="218.8" y1="352.02" x2="221.9" y2="352.02" stroke="#1a1a1a" stroke-width="1.4"/>
<line x1="218.8" y1="361.54" x2="221.9" y2="361.54" stroke="#1a1a1a" stroke-width="1.4"/>
<line x1="218.8" y1="371.06" x2="221.9" y2="371.06" stroke="#1a1a1a" stroke-width="1.4"/>
<line x1="218.8" y1="380.58" x2="221.9" y2="380.58" stroke="#1a1a1a" stroke-width="1.4"/>
<line x1="218.8" y1="390.10" x2="221.9" y2="390.10" stroke="#1a1a1a" stroke-width="1.4"/>
<line x1="218.8" y1="399.62" x2="221.9" y2="399.62" stroke="#1a1a1a" stroke-width="1.4"/>
<line x1="226.30" y1="405.4" x2="226.30" y2="408.6" stroke="#1a1a1a" stroke-width="1.4"/>
<text x="226.30" y="418" font-size="6.9" fill="#363636" stroke="#363636" text-anchor="middle">0</text>
<line x1="254.90" y1="405.4" x2="254.90" y2="408.6" stroke="#1a1a1a" stroke-width="1.4"/>
<text x="254.90" y="418" font-size="6.9" fill="#363636" stroke="#363636" text-anchor="middle">20</text>
<line x1="283.50" y1="405.4" x2="283.50" y2="408.6" stroke="#1a1a1a" stroke-width="1.4"/>
<text x="283.50" y="418" font-size="6.9" fill="#363636" stroke="#363636" text-anchor="middle">40</text>
<line x1="312.10" y1="405.4" x2="312.10" y2="408.6" stroke="#1a1a1a" stroke-width="1.4"/>
<text x="312.10" y="418" font-size="6.9" fill="#363636" stroke="#363636" text-anchor="middle">60</text>
<text class="bt" x="252.0" y="432.1" font-size="9.9" fill="#222" stroke="#222" textLength="35" lengthAdjust="spacingAndGlyphs">% Mutated</text>
<text x="408" y="25.8" font-size="8.8" fill="#2a2a2a" stroke="#2a2a2a" textLength="91.4" lengthAdjust="spacingAndGlyphs">LymphGen Classification</text>
<rect x="404.3" y="76.23" width="22.4" height="102.17" fill="#D6191F"/>
<rect x="429.9" y="78.73" width="22.4" height="99.67" fill="#4A2440"/>
<rect x="455.6" y="144.02" width="22.4" height="34.38" fill="#8183BF"/>
<rect x="481.2" y="124.25" width="22.4" height="54.15" fill="#F68F0F"/>
<path d="M400.2 32.3V185.2H507.5" fill="none" stroke="#1a1a1a" stroke-width="1.3"/>
<line x1="397.3" y1="178.40" x2="400.2" y2="178.40" stroke="#1a1a1a" stroke-width="1.4"/>
<text x="393.4" y="180.90" font-size="7.1" fill="#363636" stroke="#363636" text-anchor="end">0</text>
<line x1="397.3" y1="143.60" x2="400.2" y2="143.60" stroke="#1a1a1a" stroke-width="1.4"/>
<text x="393.4" y="146.10" font-size="7.1" fill="#363636" stroke="#363636" text-anchor="end">25</text>
<line x1="397.3" y1="108.80" x2="400.2" y2="108.80" stroke="#1a1a1a" stroke-width="1.4"/>
<text x="393.4" y="111.30" font-size="7.1" fill="#363636" stroke="#363636" text-anchor="end">50</text>
<line x1="397.3" y1="74.00" x2="400.2" y2="74.00" stroke="#1a1a1a" stroke-width="1.4"/>
<text x="393.4" y="76.50" font-size="7.1" fill="#363636" stroke="#363636" text-anchor="end">75</text>
<line x1="397.3" y1="39.20" x2="400.2" y2="39.20" stroke="#1a1a1a" stroke-width="1.4"/>
<text x="393.4" y="41.70" font-size="7.1" fill="#363636" stroke="#363636" text-anchor="end">100</text>
<line x1="415.5" y1="185.2" x2="415.5" y2="188" stroke="#1a1a1a" stroke-width="1.4"/>
<line x1="441.1" y1="185.2" x2="441.1" y2="188" stroke="#1a1a1a" stroke-width="1.4"/>
<line x1="466.8" y1="185.2" x2="466.8" y2="188" stroke="#1a1a1a" stroke-width="1.4"/>
<line x1="492.4" y1="185.2" x2="492.4" y2="188" stroke="#1a1a1a" stroke-width="1.4"/>
<text x="415.5" y="198.9" font-size="7.0" fill="#363636" stroke="#363636" text-anchor="middle">DZsig&amp;</text>
<text x="415.5" y="206.5" font-size="7.0" fill="#363636" stroke="#363636" text-anchor="middle">MHG</text>
<text x="441.1" y="198.9" font-size="7.0" fill="#363636" stroke="#363636" text-anchor="middle">DZsig-</text>
<text x="441.1" y="206.5" font-size="7.0" fill="#363636" stroke="#363636" text-anchor="middle">only</text>
<text x="466.8" y="198.9" font-size="7.0" fill="#363636" stroke="#363636" text-anchor="middle">MHG-</text>
<text x="466.8" y="206.5" font-size="7.0" fill="#363636" stroke="#363636" text-anchor="middle">only</text>
<text x="492.4" y="198.9" font-size="7.0" fill="#363636" stroke="#363636" text-anchor="middle">GCB</text>
<text class="bt" transform="translate(375.3,132.2) rotate(-90)" font-size="8.0" fill="#222" stroke="#222" textLength="46.8" lengthAdjust="spacingAndGlyphs">% EZB classified</text>
<path d="M441.3 41.3V39.5H492.4V41.3" fill="none" stroke="#333" stroke-width="0.8"/>
<text x="467.3" y="39.2" font-size="5.6" fill="#333" stroke="#333" text-anchor="middle">***</text>
<path d="M441.3 50.4V48.6H467.3V50.4" fill="none" stroke="#333" stroke-width="0.8"/>
<text x="454.3" y="48.300000000000004" font-size="5.6" fill="#333" stroke="#333" text-anchor="middle">**</text>
<path d="M415.4 59.3V57.5H492.4V59.3" fill="none" stroke="#333" stroke-width="0.8"/>
<text x="454.3" y="57.300000000000004" font-size="5.6" fill="#333" stroke="#333" text-anchor="middle">****</text>
<path d="M415.4 69.5V67.7H467.3V69.5" fill="none" stroke="#333" stroke-width="0.8"/>
<text x="441.3" y="66.8" font-size="5.6" fill="#333" stroke="#333" text-anchor="middle">**</text>
<text x="418.7" y="239.5" font-size="8.9" fill="#2a2a2a" stroke="#2a2a2a" textLength="77.8" lengthAdjust="spacingAndGlyphs">HMRN Classification</text>
<rect x="404.2" y="250.12" width="23.8" height="140.18" fill="#D6191F"/>
<rect x="431.0" y="286.37" width="23.8" height="103.94" fill="#4A2440"/>
<rect x="457.8" y="352.19" width="23.8" height="38.11" fill="#8183BF"/>
<rect x="484.6" y="303.42" width="23.8" height="86.88" fill="#F68F0F"/>
<path d="M400 243.2V397.2H508.4" fill="none" stroke="#1a1a1a" stroke-width="1.3"/>
<line x1="397.1" y1="390.30" x2="400" y2="390.30" stroke="#1a1a1a" stroke-width="1.4"/>
<text x="393.4" y="392.80" font-size="7.1" fill="#363636" stroke="#363636" text-anchor="end">0</text>
<line x1="397.1" y1="337.00" x2="400" y2="337.00" stroke="#1a1a1a" stroke-width="1.4"/>
<text x="393.4" y="339.50" font-size="7.1" fill="#363636" stroke="#363636" text-anchor="end">20</text>
<line x1="397.1" y1="283.70" x2="400" y2="283.70" stroke="#1a1a1a" stroke-width="1.4"/>
<text x="393.4" y="286.20" font-size="7.1" fill="#363636" stroke="#363636" text-anchor="end">40</text>
<line x1="416.1" y1="397.2" x2="416.1" y2="400" stroke="#1a1a1a" stroke-width="1.4"/>
<line x1="442.9" y1="397.2" x2="442.9" y2="400" stroke="#1a1a1a" stroke-width="1.4"/>
<line x1="469.7" y1="397.2" x2="469.7" y2="400" stroke="#1a1a1a" stroke-width="1.4"/>
<line x1="496.5" y1="397.2" x2="496.5" y2="400" stroke="#1a1a1a" stroke-width="1.4"/>
<text x="416.1" y="410.3" font-size="7.0" fill="#363636" stroke="#363636" text-anchor="middle">DZsig&amp;</text>
<text x="416.1" y="418" font-size="7.0" fill="#363636" stroke="#363636" text-anchor="middle">MHG</text>
<text x="442.9" y="410.3" font-size="7.0" fill="#363636" stroke="#363636" text-anchor="middle">DZsig-</text>
<text x="442.9" y="418" font-size="7.0" fill="#363636" stroke="#363636" text-anchor="middle">only</text>
<text x="469.7" y="410.3" font-size="7.0" fill="#363636" stroke="#363636" text-anchor="middle">MHG-</text>
<text x="469.7" y="418" font-size="7.0" fill="#363636" stroke="#363636" text-anchor="middle">only</text>
<text x="496.5" y="410.3" font-size="7.0" fill="#363636" stroke="#363636" text-anchor="middle">GCB</text>
<text class="bt" transform="translate(378.0,346.6) rotate(-90)" font-size="8.0" fill="#222" stroke="#222" textLength="52.5" lengthAdjust="spacingAndGlyphs">% BCL2 classified</text>
</svg></body></html>
